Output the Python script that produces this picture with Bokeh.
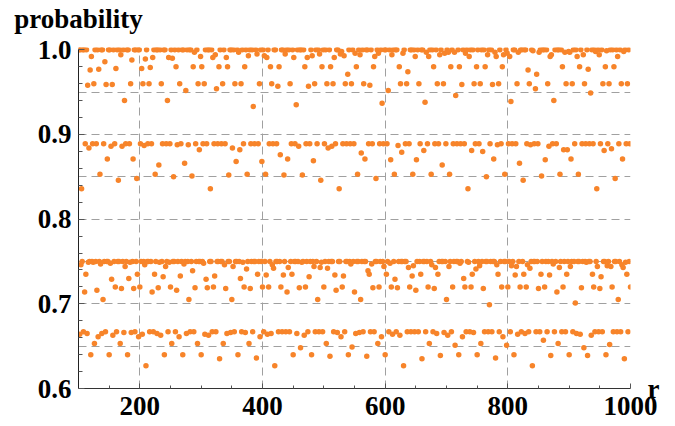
from bokeh.plotting import figure
from bokeh.models import Range1d, FixedTicker, PrintfTickFormatter, LinearAxis
from bokeh.embed import file_html
from bokeh.resources import INLINE

# r values shown: 101 .. 1000
r_first, r_last = 101, 1000

# probability values, one per r, in blocks of 100
prob_101_200 = [
    1, 0.664, 1, 0.746, 0.836, 0.75, 1, 0.667, 1, 0.714,
    0.889, 0.735, 1, 0.665, 0.958, 0.749, 0.884, 0.75, 0.976, 0.64,
    0.992, 0.75, 0.889, 0.749, 0.96, 0.653, 1, 0.75, 0.889, 0.716,
    1, 0.661, 0.977, 0.75, 0.853, 0.747, 1, 0.665, 1, 0.705,
    0.889, 0.75, 0.986, 0.667, 0.959, 0.75, 0.871, 0.75, 1, 0.64,
    1, 0.748, 0.886, 0.729, 0.959, 0.663, 1, 0.75, 0.889, 0.72,
    0.978, 0.667, 1, 0.75, 0.846, 0.75, 1, 0.653, 0.994, 0.718,
    0.886, 0.75, 1, 0.666, 0.94, 0.744, 0.889, 0.75, 1, 0.64,
    1, 0.73, 0.889, 0.749, 0.96, 0.666, 0.988, 0.75, 0.871, 0.718,
    1, 0.667, 1, 0.75, 0.848, 0.735, 1, 0.661, 1, 0.72,
]
prob_201_300 = [
    0.889, 0.75, 0.978, 0.664, 0.96, 0.75, 0.887, 0.746, 0.989, 0.627,
    1, 0.75, 0.889, 0.75, 0.96, 0.667, 0.979, 0.75, 0.889, 0.714,
    0.991, 0.667, 1, 0.735, 0.853, 0.75, 1, 0.665, 1, 0.719,
    0.864, 0.749, 1, 0.663, 0.96, 0.75, 0.889, 0.732, 1, 0.64,
    1, 0.744, 0.889, 0.75, 0.94, 0.667, 0.991, 0.749, 0.889, 0.72,
    1, 0.653, 0.99, 0.75, 0.85, 0.75, 1, 0.667, 0.98, 0.716,
    0.888, 0.75, 1, 0.661, 0.96, 0.733, 0.889, 0.75, 1, 0.64,
    1, 0.747, 0.866, 0.75, 0.952, 0.665, 1, 0.75, 0.888, 0.705,
    1, 0.667, 1, 0.75, 0.851, 0.739, 0.98, 0.667, 0.997, 0.719,
    0.889, 0.75, 1, 0.653, 0.96, 0.75, 0.882, 0.75, 0.992, 0.64,
]
prob_301_400 = [
    0.98, 0.75, 0.889, 0.748, 0.96, 0.664, 1, 0.729, 0.889, 0.719,
    1, 0.663, 1, 0.75, 0.836, 0.75, 1, 0.667, 0.991, 0.72,
    0.889, 0.733, 0.994, 0.667, 0.954, 0.75, 0.889, 0.75, 0.98, 0.635,
    1, 0.75, 0.889, 0.75, 0.96, 0.653, 1, 0.746, 0.889, 0.718,
    0.991, 0.665, 0.98, 0.75, 0.852, 0.75, 1, 0.666, 1, 0.705,
    0.884, 0.744, 1, 0.667, 0.96, 0.75, 0.868, 0.75, 1, 0.64,
    0.997, 0.75, 0.882, 0.73, 0.96, 0.667, 1, 0.749, 0.889, 0.72,
    0.98, 0.666, 1, 0.741, 0.853, 0.75, 0.993, 0.653, 1, 0.718,
    0.889, 0.75, 1, 0.667, 0.933, 0.75, 0.889, 0.75, 1, 0.636,
    0.995, 0.735, 0.889, 0.75, 0.96, 0.661, 1, 0.75, 0.868, 0.72,
]
prob_401_500 = [
    1, 0.667, 0.993, 0.75, 0.853, 0.734, 0.991, 0.664, 1, 0.72,
    0.889, 0.75, 0.98, 0.665, 0.96, 0.746, 0.889, 0.742, 1, 0.627,
    1, 0.75, 0.889, 0.75, 0.957, 0.667, 0.98, 0.75, 0.876, 0.72,
    1, 0.667, 1, 0.734, 0.852, 0.75, 0.995, 0.667, 1, 0.714,
    0.871, 0.743, 1, 0.667, 0.96, 0.75, 0.889, 0.735, 1, 0.64,
    0.991, 0.75, 0.889, 0.75, 0.935, 0.665, 1, 0.75, 0.886, 0.719,
    1, 0.648, 1, 0.749, 0.852, 0.75, 1, 0.663, 0.98, 0.72,
    0.889, 0.75, 0.991, 0.667, 0.957, 0.732, 0.889, 0.75, 1, 0.64,
    0.993, 0.75, 0.869, 0.744, 0.96, 0.667, 1, 0.75, 0.889, 0.705,
    1, 0.667, 0.995, 0.743, 0.846, 0.749, 0.98, 0.667, 1, 0.72,
]
prob_501_600 = [
    0.889, 0.75, 1, 0.653, 0.96, 0.742, 0.884, 0.75, 1, 0.638,
    0.98, 0.75, 0.886, 0.75, 0.96, 0.667, 0.991, 0.734, 0.889, 0.716,
    1, 0.666, 1, 0.75, 0.836, 0.75, 0.995, 0.661, 0.998, 0.72,
    0.889, 0.733, 0.993, 0.667, 0.96, 0.75, 0.889, 0.75, 0.971, 0.64,
    1, 0.75, 0.889, 0.747, 0.96, 0.649, 1, 0.75, 0.889, 0.714,
    0.996, 0.665, 0.98, 0.75, 0.853, 0.75, 1, 0.666, 0.994, 0.705,
    0.878, 0.75, 1, 0.667, 0.96, 0.75, 0.871, 0.75, 1, 0.638,
    1, 0.739, 0.889, 0.735, 0.958, 0.667, 1, 0.747, 0.889, 0.719,
    0.98, 0.667, 0.992, 0.75, 0.848, 0.75, 1, 0.653, 0.996, 0.72,
    0.889, 0.75, 1, 0.661, 0.937, 0.75, 0.889, 0.744, 1, 0.64,
]
prob_601_700 = [
    1, 0.735, 0.889, 0.75, 0.952, 0.667, 1, 0.748, 0.87, 0.72,
    0.994, 0.664, 1, 0.75, 0.853, 0.729, 1, 0.667, 1, 0.719,
    0.887, 0.75, 0.98, 0.663, 0.96, 0.75, 0.879, 0.75, 0.996, 0.627,
    1, 0.75, 0.889, 0.75, 0.96, 0.667, 0.974, 0.743, 0.889, 0.72,
    1, 0.667, 1, 0.733, 0.853, 0.745, 1, 0.667, 0.992, 0.716,
    0.87, 0.75, 1, 0.667, 0.96, 0.75, 0.889, 0.735, 1, 0.635,
    1, 0.75, 0.881, 0.75, 0.938, 0.667, 0.997, 0.75, 0.889, 0.72,
    0.992, 0.653, 1, 0.75, 0.853, 0.746, 1, 0.667, 0.98, 0.718,
    0.889, 0.743, 1, 0.665, 0.96, 0.735, 0.889, 0.75, 0.994, 0.639,
    1, 0.75, 0.864, 0.75, 0.96, 0.666, 0.996, 0.75, 0.889, 0.705,
]
prob_701_800 = [
    1, 0.663, 0.997, 0.744, 0.853, 0.75, 0.98, 0.667, 1, 0.72,
    0.889, 0.75, 0.997, 0.651, 0.946, 0.75, 0.889, 0.75, 1, 0.64,
    0.98, 0.748, 0.889, 0.75, 0.959, 0.661, 1, 0.73, 0.889, 0.72,
    0.996, 0.667, 1, 0.75, 0.836, 0.749, 0.992, 0.667, 1, 0.72,
    0.881, 0.735, 1, 0.666, 0.96, 0.75, 0.889, 0.741, 0.98, 0.64,
    1, 0.75, 0.889, 0.745, 0.96, 0.653, 1, 0.75, 0.88, 0.718,
    1, 0.667, 0.98, 0.75, 0.85, 0.75, 0.994, 0.667, 1, 0.699,
    0.889, 0.75, 1, 0.667, 0.959, 0.75, 0.871, 0.75, 0.997, 0.636,
    0.992, 0.746, 0.888, 0.735, 0.96, 0.667, 1, 0.75, 0.889, 0.72,
    0.98, 0.661, 0.994, 0.75, 0.853, 0.75, 1, 0.651, 0.996, 0.72,
]
prob_801_900 = [
    0.889, 0.75, 0.992, 0.667, 0.939, 0.745, 0.889, 0.75, 1, 0.64,
    1, 0.734, 0.889, 0.744, 0.96, 0.664, 0.997, 0.75, 0.866, 0.72,
    1, 0.667, 1, 0.75, 0.846, 0.735, 1, 0.665, 1, 0.72,
    0.889, 0.746, 0.976, 0.667, 0.96, 0.742, 0.888, 0.75, 1, 0.627,
    0.999, 0.75, 0.889, 0.75, 0.954, 0.667, 0.971, 0.75, 0.889, 0.718,
    0.997, 0.667, 1, 0.735, 0.851, 0.75, 1, 0.657, 1, 0.72,
    0.87, 0.75, 1, 0.667, 0.96, 0.75, 0.886, 0.734, 0.992, 0.639,
    0.994, 0.75, 0.889, 0.747, 0.94, 0.667, 1, 0.75, 0.889, 0.714,
    1, 0.653, 1, 0.743, 0.853, 0.75, 1, 0.667, 0.98, 0.72,
    0.882, 0.75, 0.997, 0.667, 0.96, 0.735, 0.882, 0.75, 0.998, 0.64,
]
prob_901_1000 = [
    0.997, 0.744, 0.871, 0.75, 0.96, 0.667, 1, 0.75, 0.889, 0.701,
    1, 0.665, 0.992, 0.75, 0.853, 0.75, 0.98, 0.664, 1, 0.719,
    0.889, 0.75, 0.994, 0.648, 0.96, 0.75, 0.889, 0.749, 1, 0.639,
    0.977, 0.75, 0.889, 0.75, 0.949, 0.663, 1, 0.735, 0.889, 0.72,
    1, 0.667, 0.998, 0.75, 0.836, 0.744, 1, 0.667, 0.994, 0.718,
    0.889, 0.732, 1, 0.667, 0.96, 0.75, 0.881, 0.75, 0.98, 0.64,
    0.999, 0.745, 0.889, 0.75, 0.96, 0.652, 1, 0.744, 0.883, 0.72,
    1, 0.667, 0.98, 0.75, 0.848, 0.75, 1, 0.667, 0.992, 0.705,
    0.889, 0.75, 1, 0.667, 0.96, 0.746, 0.871, 0.743, 0.998, 0.635,
    1, 0.749, 0.889, 0.735, 0.96, 0.667, 1, 0.75, 0.889, 0.72,
]

prob = (prob_101_200 + prob_201_300 + prob_301_400 + prob_401_500 + prob_501_600
        + prob_601_700 + prob_701_800 + prob_801_900 + prob_901_1000)
r = list(range(r_first, r_last + 1))

x_major = [200, 400, 600, 800, 1000]
x_minor = [150, 250, 300, 350, 450, 500, 550, 650, 700, 750, 850, 900, 950]
y_major = [0.6, 0.7, 0.8, 0.9, 1.0]
y_minor = [0.62, 0.64, 0.66, 0.68, 0.72, 0.74, 0.76, 0.78, 0.82, 0.84, 0.86, 0.88,
           0.92, 0.94, 0.96, 0.98]
x_grid = [200, 400, 600, 800]
y_grid = [0.65, 0.7, 0.75, 0.8, 0.85, 0.9, 0.95]
y_title = "probability"
x_title = "r"

FONT = "Liberation Serif"
FS = "27px"
ORANGE = "#F7842A"

p = figure(width=675, height=426, output_backend="svg", toolbar_location=None, title=None,
           x_range=Range1d(100, 1000), y_range=Range1d(0.6, 1.0027),
           min_border_left=78, min_border_right=45, min_border_top=44, min_border_bottom=38)
p.outline_line_color = None
p.background_fill_color = "white"
p.border_fill_color = "white"


def style_labels(ax, standoff):
    ax.major_label_standoff = standoff
    ax.major_label_text_font = FONT
    ax.major_label_text_font_style = "bold"
    ax.major_label_text_font_size = FS
    ax.major_label_text_color = "black"


# grid
p.xgrid.ticker = FixedTicker(ticks=x_grid)
p.ygrid.ticker = FixedTicker(ticks=y_grid)
for g in (p.xgrid, p.ygrid):
    g.grid_line_color = "#A0A0A0"
    g.grid_line_dash = "8 5"
    g.grid_line_width = 1

# x axis
xa = p.xaxis[0]
xa.ticker = FixedTicker(ticks=x_major, minor_ticks=x_minor)
xa.axis_line_color = "#333333"
xa.major_tick_line_color = "#555555"
xa.minor_tick_line_color = "#555555"
xa.major_tick_in = 5
xa.major_tick_out = 0
xa.minor_tick_in = 3
xa.minor_tick_out = 0
style_labels(xa, 8)

# y axis
ya = p.yaxis[0]
ya.ticker = FixedTicker(ticks=y_major, minor_ticks=y_minor)
ya.bounds = (0.6, 1.0)
ya.formatter = PrintfTickFormatter(format="%.1f")
ya.axis_line_color = "#222222"
ya.major_tick_line_color = "#555555"
ya.minor_tick_line_color = "#555555"
ya.major_tick_in = 6
ya.major_tick_out = 0
ya.minor_tick_in = 4
ya.minor_tick_out = 0
style_labels(ya, 7)

# axis titles as single-label guide axes
top = LinearAxis(ticker=FixedTicker(ticks=[100]), formatter=PrintfTickFormatter(format=y_title),
                 axis_line_color=None, major_tick_line_color=None, minor_tick_line_color=None,
                 major_tick_in=0, major_tick_out=0, minor_tick_in=0, minor_tick_out=0)
style_labels(top, 14)
p.add_layout(top, "above")

right = LinearAxis(ticker=FixedTicker(ticks=[0.6]), formatter=PrintfTickFormatter(format=x_title),
                   axis_line_color=None, major_tick_line_color=None, minor_tick_line_color=None,
                   major_tick_in=0, major_tick_out=0, minor_tick_in=0, minor_tick_out=0)
style_labels(right, 17)
p.add_layout(right, "right")

# data
p.scatter(r, prob, size=5.5, fill_color=ORANGE, line_color=None)

open("out.html", "w").write(file_html(p, INLINE))
